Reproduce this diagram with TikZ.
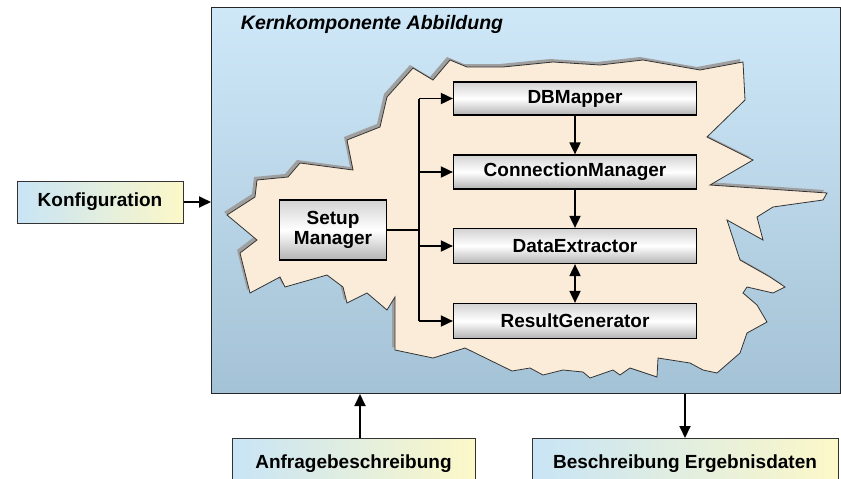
\documentclass[tikz,border=0pt]{standalone}
\usepackage{fontspec}
\setmainfont{Liberation Sans}
\usetikzlibrary{arrows.meta}
\definecolor{skytop}{RGB}{206,232,248}
\definecolor{skybot}{RGB}{164,194,214}
\definecolor{cream}{RGB}{250,236,216}
\definecolor{lblue}{RGB}{200,228,246}
\definecolor{lyellow}{RGB}{252,248,200}
\tikzset{
  mainbox/.style={draw=black!85, line width=1pt, top color=skytop, bottom color=skybot, shading angle=0},
  graybox/.style={draw=black, line width=1.2pt, top color=gray!35, bottom color=gray!60, middle color=white,
    font=\bfseries\fontsize{19}{21}\selectfont, align=center, inner sep=0pt},
  iobox/.style={draw=black!80, line width=1pt, left color=lblue, right color=lyellow,
    font=\bfseries\fontsize{19}{21}\selectfont, inner sep=0pt},
  conn/.style={line width=1.8pt, -{Triangle[length=12pt,width=11pt]}},
  plain/.style={line width=1.8pt},
}
\begin{document}
\begin{tikzpicture}[x=1pt,y=-1pt]
\clip (0,0) rectangle (841,479);
\fill[white] (0,0) rectangle (841,479);
% main box
\node[mainbox, minimum width=629pt, minimum height=386pt, anchor=north west] (main) at (211,7) {};
\node[font=\bfseries\itshape\fontsize{19.5}{21}\selectfont] (title) at (372,24) {Kernkomponente Abbildung};
% blob
\def\blobpath{(380,127) -- (387,97) -- (413,68) -- (433,80) -- (450,60) -- (467,67) -- (503,67) -- (553,62) -- (600,65) -- (643,60) -- (700,70) -- (743,62)
 -- (745,100) -- (707,137) -- (753,160) -- (710,185) -- (827,193) -- (823,200) -- (773,207) -- (757,217) -- (763,240) -- (727,220) -- (740,260) -- (770,277) -- (785,287) -- (773,293) -- (747,287) -- (743,293) -- (757,305) -- (767,322) -- (747,333) -- (740,353) -- (717,373) -- (703,370) -- (690,363) -- (658,358) -- (657,377) -- (630,368) -- (620,375) -- (613,370) -- (590,378) -- (583,372) -- (563,370) -- (543,375) -- (530,368) -- (512,371) -- (465,348) -- (433,358) -- (395,350)
 -- (395,297) -- (387,310) -- (367,293) -- (347,303) -- (343,287) -- (327,275) -- (285,287) -- (280,277) -- (250,293) -- (240,253) -- (257,240) -- (227,215) -- (255,197) -- (257,180) -- (288,177) -- (300,163) -- (353,170) -- (347,140) -- cycle}
\fill[gray!75, xshift=-3pt, yshift=3pt] \blobpath;
\filldraw[fill=cream, draw=black!80, line width=0.8pt] \blobpath;
% components
\node[graybox, minimum width=243pt, minimum height=33pt] (dbm) at (575,98.5) {DBMapper};
\node[graybox, minimum width=243pt, minimum height=34pt] (cm) at (575,172) {ConnectionManager};
\node[graybox, minimum width=243pt, minimum height=35pt] (de) at (575,246) {DataExtractor};
\node[graybox, minimum width=243pt, minimum height=35pt] (rg) at (575,321) {ResultGenerator};
\node[graybox, minimum width=107pt, minimum height=60pt] (sm) at (333,230) {Setup\\[-1pt]Manager};
\coordinate (trunk) at (419,230);
\coordinate (ttop) at (419,98.5);
\coordinate (tbot) at (419,321);
\draw[plain] (sm.east) -- (trunk);
\draw[plain] (ttop) -- (tbot);
\draw[conn] (ttop) -- (dbm.west);
\draw[conn] (trunk |- cm.west) -- (cm.west);
\draw[conn] (trunk |- de.west) -- (de.west);
\draw[conn] (tbot) -- (rg.west);
\draw[conn] (dbm.south) -- (cm.north);
\draw[conn] (cm.south) -- (de.north);
\draw[line width=1.8pt, {Triangle[length=12pt,width=11pt]}-{Triangle[length=12pt,width=11pt]}] (de.south) -- (rg.north);
% inputs / outputs
\node[iobox, minimum width=166pt, minimum height=42pt] (konf) at (100,202) {Konfiguration};
\draw[conn] (konf.east) -- (main.west |- konf.east);
\node[iobox, minimum width=243pt, minimum height=50pt, anchor=north] (anf) at (353.5,438) {Anfragebeschreibung};
\node[iobox, minimum width=306pt, minimum height=50pt, anchor=north] (erg) at (685,438) {Beschreibung Ergebnisdaten};
\draw[conn] ([xshift=6.5pt]anf.north) -- ([xshift=6.5pt]anf.north |- main.south);
\draw[conn] (main.south -| erg.north) -- (erg.north);
\end{tikzpicture}
\end{document}
